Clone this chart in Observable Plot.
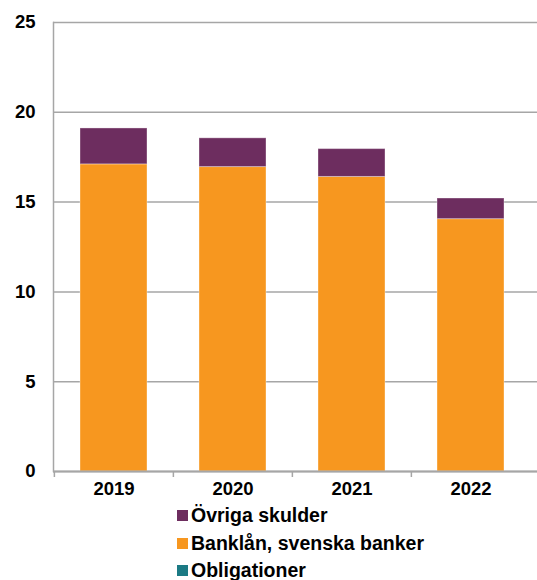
<!DOCTYPE html>
<html>
<head>
<meta charset="utf-8">
<script src="https://cdn.jsdelivr.net/npm/d3@7"></script>
<script src="https://cdn.jsdelivr.net/npm/@observablehq/plot@0.6"></script>
<style>
  body { margin: 0; background: #fff; font-family: "Liberation Sans", Arial, sans-serif; }
  #legend { padding-left: 177px; padding-top: 2px; }
  .row { display: flex; align-items: center; height: 27.5px; font-weight: bold; font-size: 19.5px; color: #000; }
  .sw { width: 11px; height: 11px; margin-right: 3px; }
</style>
</head>
<body>
<div id="chart"></div>
<div id="legend"></div>
<script>
const years = ["2019", "2020", "2021", "2022"];
const seriesNames = ["Obligationer", "Banklån, svenska banker", "Övriga skulder"];
const obligationer = [0, 0, 0, 0];
const banklan = [17.1, 16.95, 16.4, 14.05];
const ovriga = [2.0, 1.6, 1.55, 1.15];
const colors = ["#1B7A84", "#F7971F", "#6D2D5F"];
const yTicks = [0, 5, 10, 15, 20, 25];
const legendOrder = ["Övriga skulder", "Banklån, svenska banker", "Obligationer"];

const seriesValues = [obligationer, banklan, ovriga];
const table = [];
seriesNames.forEach((s, si) => years.forEach((y, i) => table.push({year: y, series: s, value: seriesValues[si][i]})));

const W = 537, mL = 53, mR = 7;
const step = (W - mL - mR) / years.length;

const chart = Plot.plot({
  width: W,
  height: 500,
  marginLeft: mL,
  marginRight: mR,
  marginTop: 22,
  marginBottom: 29,
  style: {fontFamily: "Liberation Sans, Arial, sans-serif", fontWeight: "bold", fontSize: "18px", color: "#000", background: "#fff"},
  x: {domain: years, paddingInner: 0.44, paddingOuter: 0.22, label: null},
  y: {domain: [0, 25], label: null},
  color: {domain: seriesNames, range: colors},
  marks: [
    Plot.ruleY(yTicks, {stroke: "#a6a6a6", strokeWidth: 1.5, insetRight: -mR, strokeOpacity: 1}),
    Plot.frame({anchor: "left", stroke: "#a6a6a6", strokeWidth: 1.5}),
    Plot.barY(table, Plot.stackY({x: "year", y: "value", fill: "series", order: seriesNames, stroke: "#fff", strokeOpacity: 0.35, strokeWidth: 1})),
    Plot.ruleY([0], {stroke: "#a6a6a6", strokeWidth: 2, insetRight: -mR}),
    Plot.ruleX(years, {x: d => d, y1: 0, y2: 0, dx: -step / 2, insetBottom: -6, stroke: "#a6a6a6", strokeWidth: 1.5}),
    Plot.axisY({ticks: yTicks, tickSize: 0, tickPadding: 18, fill: "#000", fontSize: 18.5, fontWeight: "bold"}),
    Plot.axisX({tickSize: 0, tickPadding: 10, fill: "#000", fontSize: 18.5, fontWeight: "bold"})
  ]
});
document.getElementById("chart").appendChild(chart);

const legend = document.getElementById("legend");
legendOrder.forEach(name => {
  const row = document.createElement("div");
  row.className = "row";
  const sw = document.createElement("span");
  sw.className = "sw";
  sw.style.background = colors[seriesNames.indexOf(name)];
  const t = document.createElement("span");
  t.textContent = name;
  row.appendChild(sw);
  row.appendChild(t);
  legend.appendChild(row);
});
</script>
</body>
</html>
